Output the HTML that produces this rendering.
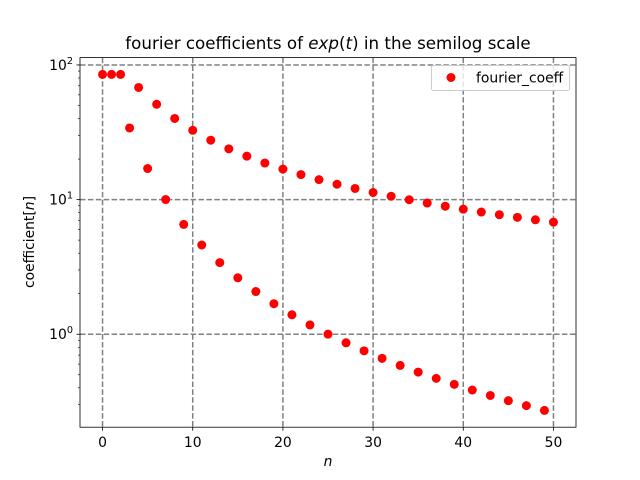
<!DOCTYPE html>
<html><head><meta charset="utf-8"><style>
body{margin:0;background:#fff}
svg{display:block;font-family:"DejaVu Sans","Liberation Sans",sans-serif}
</style></head><body>
<svg id="c" width="640" height="480" viewBox="0 0 640 480"></svg>
<script>
const nValues=[0,1,2,3,4,5,6,7,8,9,10,11,12,13,14,15,16,17,18,19,20,21,22,23,24,25,26,27,28,29,30,31,32,33,34,35,36,37,38,39,40,41,42,43,44,45,46,47,48,49,50];
const coeffValues=[85.07,85.07,85.07,34.03,68.06,17.01,51.04,10.01,40.03,6.544,32.72,4.599,27.59,3.403,23.82,2.626,21.01,2.076,18.69,1.685,16.85,1.394,15.34,1.173,14.07,1.001,13.01,0.8637,12.09,0.7528,11.29,0.662,10.59,0.5867,9.974,0.5235,9.423,0.47,8.93,0.4243,8.486,0.3849,8.084,0.3508,7.718,0.321,7.383,0.2949,7.077,0.2718,6.795];
const xTicks=[0,10,20,30,40,50];
const yTicks=[0,1,2];
const NS="http://www.w3.org/2000/svg";
const svg=document.getElementById('c');
const L=80,R=576,T=57.6,B=427.2;
const xmin=-2.5,xmax=52.5;
const ly=coeffValues.map(v=>Math.log10(v));
const lmin=Math.min(...ly),lmax=Math.max(...ly),pad=(lmax-lmin)*0.05;
const ymin=lmin-pad,ymax=lmax+pad;
const xs=v=>L+(v-xmin)/(xmax-xmin)*(R-L);
const ys=v=>B-(Math.log10(v)-ymin)/(ymax-ymin)*(B-T);
function mk(tag,a,parent){const e=document.createElementNS(NS,tag);for(const k in a)e.setAttribute(k,a[k]);(parent||svg).appendChild(e);return e;}
const grid=mk('g',{});


xTicks.forEach(t=>{const x=xs(t);
 mk('line',{x1:x,x2:x,y1:T,y2:B,stroke:'#808080','stroke-width':1.5,'stroke-dasharray':'5.5,2.4'},grid);
 mk('line',{x1:x,x2:x,y1:B,y2:B+3.5,stroke:'#000','stroke-width':0.8});
 const tx=mk('text',{x:x,y:B+20,'font-size':13.9,'text-anchor':'middle'});tx.textContent=t;
 
 
});
yTicks.forEach(p=>{const y=ys(Math.pow(10,p));
 mk('line',{x1:L,x2:R,y1:y,y2:y,stroke:'#808080','stroke-width':1.5,'stroke-dasharray':'5.5,2.4'},grid);
 mk('line',{x1:L-3.5,x2:L,y1:y,y2:y,stroke:'#000','stroke-width':0.8});
 const tx=mk('text',{x:L-7,y:y+5,'font-size':13.9,'text-anchor':'end'});
 tx.innerHTML='10<tspan dy="-6" font-size="9.7">'+p+'</tspan>';
 
 
});
for(let p=-1;p<=2;p++)for(let m=2;m<=9;m++){const v=m*Math.pow(10,p);const lv=Math.log10(v);
 if(lv<ymin||lv>ymax)continue;const y=ys(v);
 mk('line',{x1:L-2,x2:L,y1:y,y2:y,stroke:'#000','stroke-width':0.6});}
const pts=mk('g',{});


nValues.forEach((n,i)=>{const c=mk('circle',{cx:xs(n),cy:ys(coeffValues[i]),r:4.5,fill:'#ff0000'},pts);
 
 
});
mk('rect',{x:L,y:T,width:R-L,height:B-T,fill:'none',stroke:'#000','stroke-width':0.8});
</script>
<div style="position:absolute;left:0;top:0;width:640px;height:480px;pointer-events:none">
<svg width="640" height="480" style="position:absolute;left:0;top:0;font-family:'DejaVu Sans','Liberation Sans',sans-serif">
<text x="328" y="49" font-size="16.7" text-anchor="middle">fourier coefficients of <tspan font-style="italic">exp</tspan>(<tspan font-style="italic">t</tspan>) in the semilog scale</text>
<text x="328" y="466" font-size="13.9" text-anchor="middle" font-style="italic">n</text>
<text transform="translate(34,242) rotate(-90)" font-size="13.9" text-anchor="middle">coefficient[<tspan font-style="italic">n</tspan>]</text>
<g>
<rect x="431.5" y="65.5" width="138" height="25" rx="2" fill="#fff" fill-opacity="0.8" stroke="#cccccc" stroke-width="1"/>
<circle cx="451" cy="77.5" r="4.5" fill="#ff0000"/>
<text x="476" y="82.5" font-size="13.9">fourier_coeff</text>
</g>
</svg></div>
</body></html>
